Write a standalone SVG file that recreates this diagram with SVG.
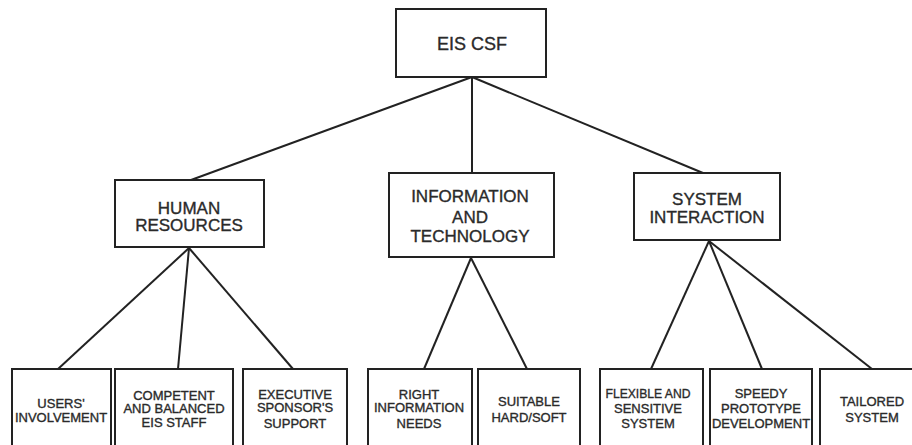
<svg xmlns="http://www.w3.org/2000/svg" width="912" height="445" viewBox="0 0 912 445">
<style>
.box{fill:#fff;stroke:#222;stroke-width:2}
.ln{stroke:#222;stroke-width:2;fill:none}
text{font-family:"Liberation Sans",Arial,sans-serif;fill:#2a2a2a;stroke:#2a2a2a;stroke-width:0.35;text-anchor:middle}
.t1{font-size:18px}
.t2{font-size:17px}
.t3{font-size:13px}
</style>
<rect width="912" height="445" fill="#fff"/>
<g id="connectors">
<line class="ln" x1="472" y1="77" x2="191" y2="180"/>
<line class="ln" x1="472" y1="77" x2="472" y2="173"/>
<line class="ln" x1="472" y1="77" x2="703" y2="173"/>
<line class="ln" x1="189" y1="248" x2="58" y2="369"/>
<line class="ln" x1="189" y1="248" x2="178" y2="369"/>
<line class="ln" x1="189" y1="248" x2="293" y2="369"/>
<line class="ln" x1="471" y1="258" x2="424" y2="369"/>
<line class="ln" x1="471" y1="258" x2="527" y2="369"/>
<line class="ln" x1="709" y1="241" x2="651" y2="369"/>
<line class="ln" x1="709" y1="241" x2="762" y2="369"/>
<line class="ln" x1="709" y1="241" x2="872" y2="369"/>
</g>
<g id="eis-csf">
<rect class="box" x="396" y="9" width="150" height="68"/>
<text class="t1" x="472" y="49.5">EIS CSF</text>
</g>
<g id="human-resources">
<rect class="box" x="115" y="180" width="149" height="67"/>
<text class="t2" x="189" y="213.5">HUMAN</text>
<text class="t2" x="189" y="231">RESOURCES</text>
</g>
<g id="information-technology">
<rect class="box" x="389" y="173" width="165" height="84"/>
<text class="t2" x="470" y="202">INFORMATION</text>
<text class="t2" x="470" y="222.5">AND</text>
<text class="t2" x="470" y="242">TECHNOLOGY</text>
</g>
<g id="system-interaction">
<rect class="box" x="634" y="173" width="146" height="67"/>
<text class="t2" x="707" y="204.5">SYSTEM</text>
<text class="t2" x="707" y="223">INTERACTION</text>
</g>
<g id="users-involvement">
<rect class="box" x="12" y="369" width="99" height="90"/>
<text class="t3" x="61" y="407.5">USERS'</text>
<text class="t3" x="61" y="421.5">INVOLVEMENT</text>
</g>
<g id="competent-staff">
<rect class="box" x="115" y="369" width="118" height="90"/>
<text class="t3" x="174" y="399.5">COMPETENT</text>
<text class="t3" x="174" y="413">AND BALANCED</text>
<text class="t3" x="174" y="427">EIS STAFF</text>
</g>
<g id="executive-sponsor">
<rect class="box" x="243" y="369" width="104" height="90"/>
<text class="t3" x="295" y="398.5">EXECUTIVE</text>
<text class="t3" x="295" y="412">SPONSOR'S</text>
<text class="t3" x="295" y="427.5">SUPPORT</text>
</g>
<g id="right-information">
<rect class="box" x="368" y="369" width="104" height="90"/>
<text class="t3" x="419" y="398.5">RIGHT</text>
<text class="t3" x="419" y="412">INFORMATION</text>
<text class="t3" x="419" y="427.5">NEEDS</text>
</g>
<g id="suitable-hardsoft">
<rect class="box" x="478" y="369" width="102" height="90"/>
<text class="t3" x="529" y="406">SUITABLE</text>
<text class="t3" x="529" y="421.5">HARD/SOFT</text>
</g>
<g id="flexible-system">
<rect class="box" x="600" y="369" width="103" height="90"/>
<text class="t3" x="648" y="397.5" textLength="85" lengthAdjust="spacingAndGlyphs">FLEXIBLE AND</text>
<text class="t3" x="648" y="412.5">SENSITIVE</text>
<text class="t3" x="648" y="427.5">SYSTEM</text>
</g>
<g id="speedy-prototype">
<rect class="box" x="710" y="369" width="102" height="90"/>
<text class="t3" x="761" y="397.5">SPEEDY</text>
<text class="t3" x="761" y="412.5">PROTOTYPE</text>
<text class="t3" x="761" y="427.5">DEVELOPMENT</text>
</g>
<g id="tailored-system">
<rect class="box" x="820" y="369" width="106" height="90"/>
<text class="t3" x="872" y="406">TAILORED</text>
<text class="t3" x="872" y="421.5">SYSTEM</text>
</g>
</svg>
